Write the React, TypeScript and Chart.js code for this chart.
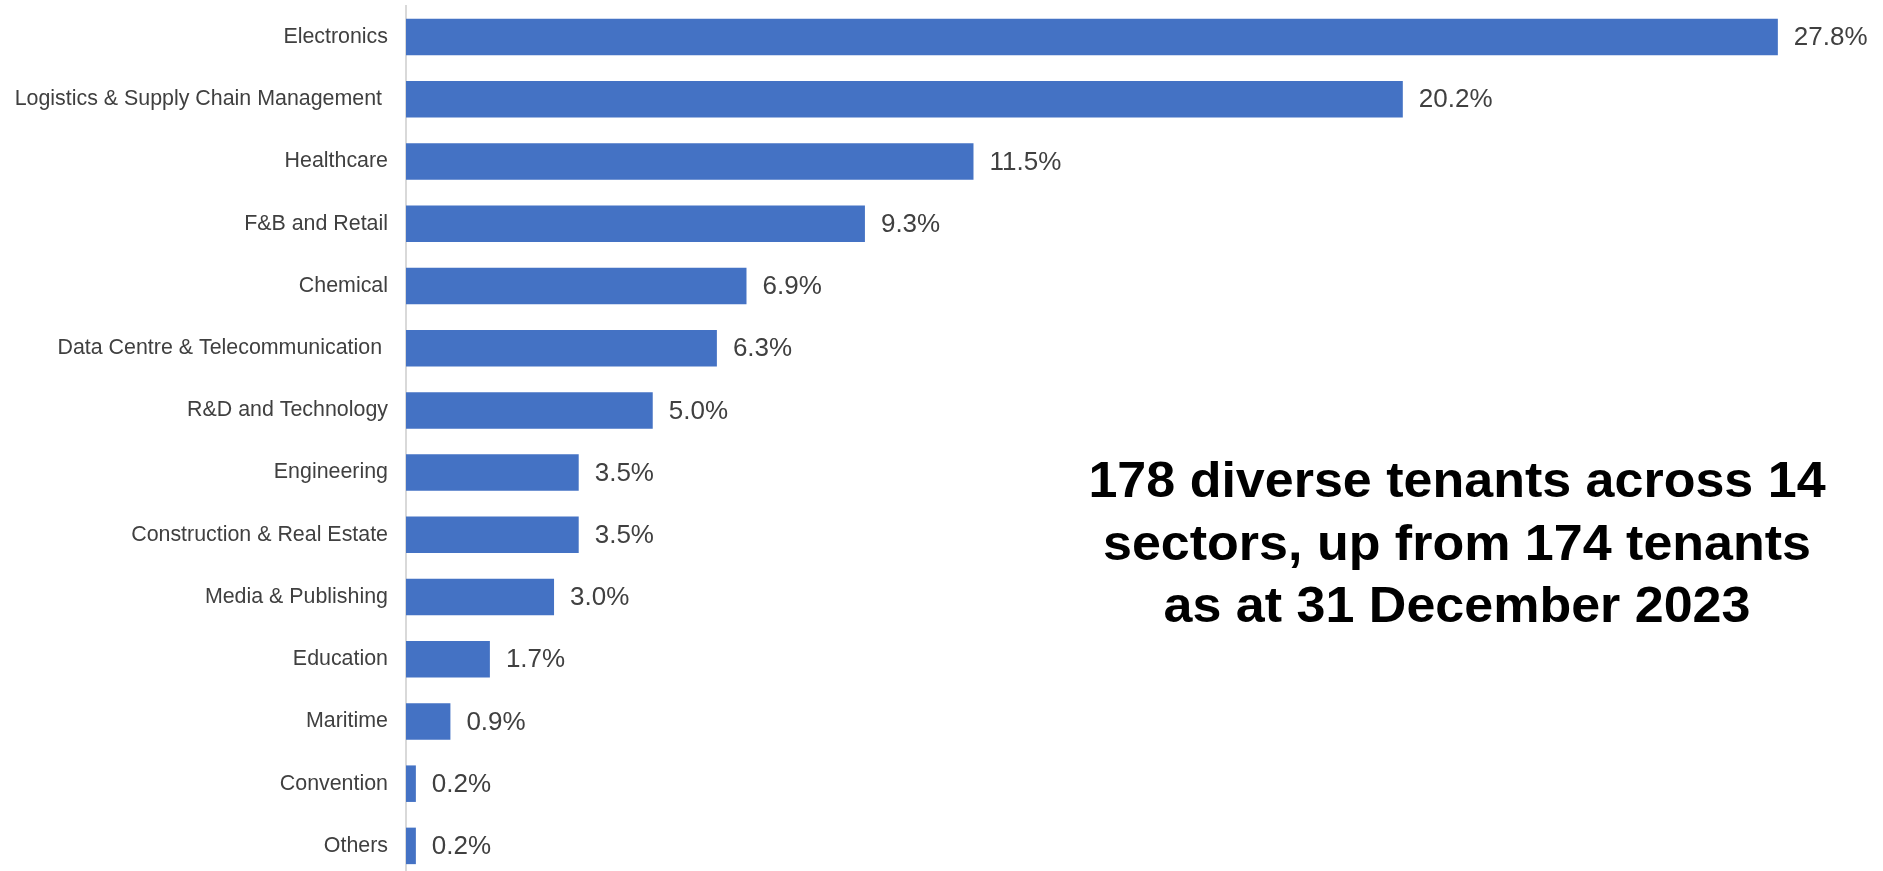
import React, { useEffect, useRef } from "react";
import { Chart, registerables } from "chart.js";

Chart.register(...registerables);

const categories: string[] = [
  "Electronics",
  "Logistics & Supply Chain Management ",
  "Healthcare",
  "F&B and Retail",
  "Chemical",
  "Data Centre & Telecommunication ",
  "R&D and Technology",
  "Engineering",
  "Construction & Real Estate",
  "Media & Publishing",
  "Education",
  "Maritime",
  "Convention",
  "Others",
];

const shares: number[] = [27.8, 20.2, 11.5, 9.3, 6.9, 6.3, 5.0, 3.5, 3.5, 3.0, 1.7, 0.9, 0.2, 0.2];

const noteLines: string[] = [
  "178 diverse tenants across 14",
  "sectors, up from 174 tenants",
  "as at 31 December 2023",
];

const FONT = "'Liberation Sans', Arial, Helvetica, sans-serif";

export default function App() {
  const ref = useRef<HTMLCanvasElement | null>(null);

  useEffect(() => {
    if (!ref.current) return;

    const valueLabels = {
      id: "valueLabels",
      afterDatasetsDraw(chart: any) {
        const ctx = chart.ctx;
        const meta = chart.getDatasetMeta(0);
        ctx.save();
        ctx.font = `26px ${FONT}`;
        ctx.fillStyle = "#404040";
        ctx.textAlign = "left";
        ctx.textBaseline = "middle";
        meta.data.forEach((bar: any, i: number) => {
          ctx.fillText(shares[i].toFixed(1) + "%", bar.x + 16, bar.y + 1);
        });
        ctx.restore();
      },
    };

    const note = {
      id: "note",
      afterDraw(chart: any) {
        const ctx = chart.ctx;
        ctx.save();
        ctx.fillStyle = "#000000";
        ctx.font = `bold 50px ${FONT}`;
        ctx.textAlign = "center";
        ctx.textBaseline = "alphabetic";
        const cx = 1457;
        const baselines = [497, 559.5, 622];
        noteLines.forEach((line, i) => {
          ctx.save();
          ctx.translate(cx, baselines[i]);
          ctx.scale(1.04, 1);
          ctx.fillText(line, 0, 0);
          ctx.restore();
        });
        ctx.restore();
      },
    };

    const chart = new Chart(ref.current, {
      type: "bar",
      data: {
        labels: categories,
        datasets: [
          {
            data: shares,
            backgroundColor: "#4472C4",
            borderWidth: 0,
            barPercentage: 0.587,
            categoryPercentage: 1,
          },
        ],
      },
      options: {
        indexAxis: "y",
        responsive: false,
        animation: false,
        devicePixelRatio: 1,
        layout: { padding: { top: 6, bottom: 3, right: 41, left: 0 } },
        plugins: {
          legend: { display: false },
          tooltip: { enabled: false },
        },
        scales: {
          x: {
            display: false,
            min: 0,
            max: 29.1,
          },
          y: {
            afterFit: (scale: any) => {
              scale.width = 406;
              scale.paddingTop = 0;
              scale.paddingBottom = 0;
            },
            grid: { display: false, drawTicks: false },
            border: { display: true, color: "#d9d9d9", width: 2 },
            ticks: {
              color: "#404040",
              padding: 18,
              autoSkip: false,
              font: { family: FONT, size: 21.4 },
            },
          },
        },
      },
      plugins: [valueLabels, note],
    });

    return () => chart.destroy();
  }, []);

  return (
    <div style={{ position: "fixed", left: 0, top: 0, width: 1883, height: 880, background: "#fff" }}>
      <canvas ref={ref} width={1883} height={880} style={{ display: "block" }} />
    </div>
  );
}
